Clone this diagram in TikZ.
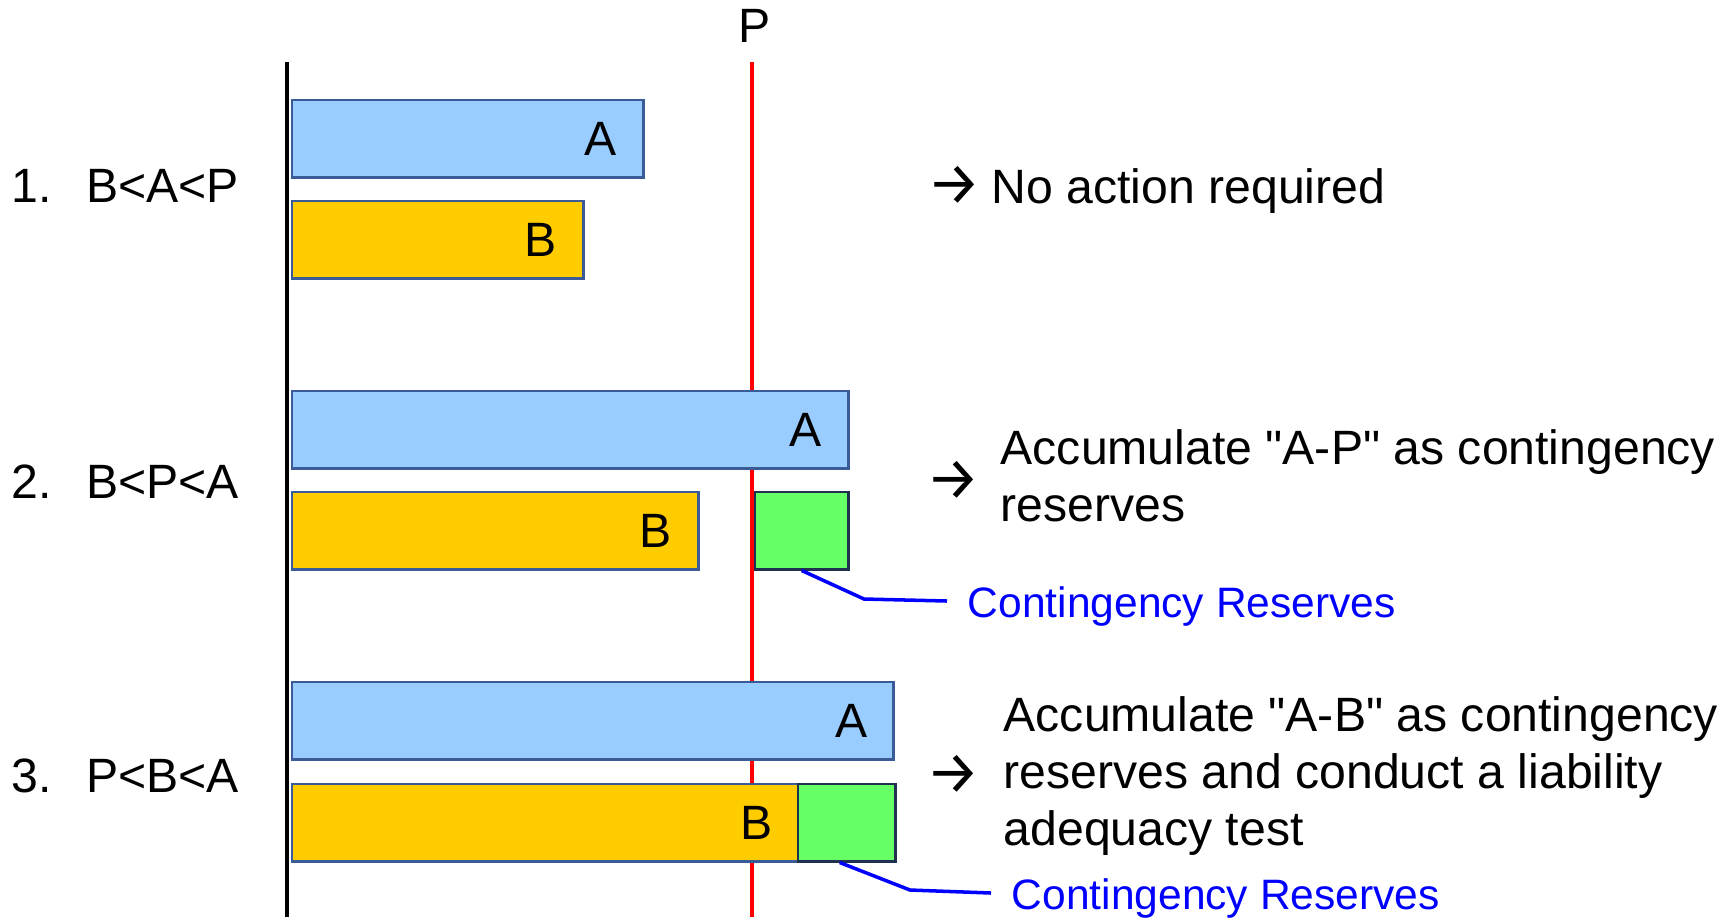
\documentclass[tikz,border=0pt]{standalone}
\usepackage{fontspec}
\setmainfont{Liberation Sans}[Ligatures=TeXOff]
\newfontfamily\arrowfont{Fira Sans}
\usetikzlibrary{positioning,calc}

\definecolor{barblue}{RGB}{153,204,255}
\definecolor{baryellow}{RGB}{255,204,0}
\definecolor{resgreen}{RGB}{102,255,102}
\definecolor{barline}{RGB}{58,90,152}
\definecolor{resline}{RGB}{31,48,80}

\newcommand{\bigtext}{\fontsize{13.7pt}{16.2pt}\selectfont}
\newcommand{\smalltext}{\fontsize{12.1pt}{14.5pt}\selectfont}
\newcommand{\arrowtext}{\arrowfont\fontsize{17pt}{17pt}\selectfont}

\begin{document}
\begin{tikzpicture}[
    x=0.01cm, y=-0.01cm,
    bar/.style={draw=barline, line width=0.7pt, anchor=north west, minimum height=0.77cm, inner sep=0pt},
    barA/.style={bar, fill=barblue},
    barB/.style={bar, fill=baryellow},
    reserve/.style={bar, draw=resline, fill=resgreen},
    tag/.style={font=\bigtext, inner sep=0pt},
    case/.style={font=\bigtext, inner sep=0pt, anchor=base west},
    action/.style={font=\bigtext, inner sep=0pt, anchor=base west, align=left},
    then/.style={font=\arrowtext, inner sep=0pt, anchor=west},
    note/.style={font=\smalltext, text=blue, inner sep=0pt, anchor=base west},
    leader/.style={blue, line width=1pt},
]
\useasboundingbox (0,0) rectangle (1731,917);

% ================== Axis and P line ==================
\coordinate (axtop) at (287,62);
\coordinate (axbot) at (287,917);
\coordinate (ptop) at (752,62);
\coordinate (pbot) at (752,917);
\draw[line width=1.3pt] (axtop) -- (axbot);
\draw[red, line width=1.3pt] (ptop) -- (pbot);
\node[tag, above=0.19cm of ptop, xshift=0.03cm] (plab) {P};

% ================== Case 1 ==================
\node[case] (c1) at (11,202) {1.\hspace{0.345cm}B<A<P};
\node[barA, minimum width=3.51cm] (a1) at (291,99) {};
\node[barB, minimum width=2.91cm] (b1) at (291,200) {};
\node[tag, left=0.27cm of a1.east] (la1) {A};
\node[tag, left=0.27cm of b1.east] (lb1) {B};
\node[then] (arr1) at (927,185) {→};
\node[action] (act1) at (991,203) {No action required};

% ================== Case 2 ==================
\node[case] (c2) at (11,498) {2.\hspace{0.345cm}B<P<A};
\node[barA, minimum width=5.56cm] (a2) at (291,390) {};
\node[barB, minimum width=4.06cm] (b2) at (291,491) {};
\node[reserve, minimum width=0.93cm] (g2) at (754,491) {};
\node[tag, left=0.27cm of a2.east] (la2) {A};
\node[tag, left=0.27cm of b2.east] (lb2) {B};
\node[then] (arr2) at (926,480) {→};
\node[action] (act2) at (1000,521) {Accumulate "A-P" as contingency\\reserves};
\node[note] (cr2) at (967,617) {Contingency Reserves};
\coordinate (k2) at (864,599);
\draw[leader] (g2.south) -- (k2) -- ([xshift=-0.2cm, yshift=0.05cm]cr2.west);

% ================== Case 3 ==================
\node[case] (c3) at (11,792) {3.\hspace{0.345cm}P<B<A};
\node[barA, minimum width=6.01cm] (a3) at (291,681) {};
\node[barB, minimum width=5.06cm] (b3) at (291,783) {};
\node[reserve, minimum width=0.97cm] (g3) at (797,783) {};
\node[tag, left=0.26cm of a3.east] (la3) {A};
\node[tag, left=0.26cm of b3.east] (lb3) {B};
\node[then] (arr3) at (926,774) {→};
\node[action] (act3) at (1003,845) {Accumulate "A-B" as contingency\\reserves and conduct a liability\\adequacy test};
\node[note] (cr3) at (1011,909) {Contingency Reserves};
\coordinate (k3) at (910,890);
\draw[leader] ([xshift=-0.07cm]g3.south) -- (k3) -- ([xshift=-0.2cm, yshift=0.05cm]cr3.west);

\end{tikzpicture}
\end{document}
